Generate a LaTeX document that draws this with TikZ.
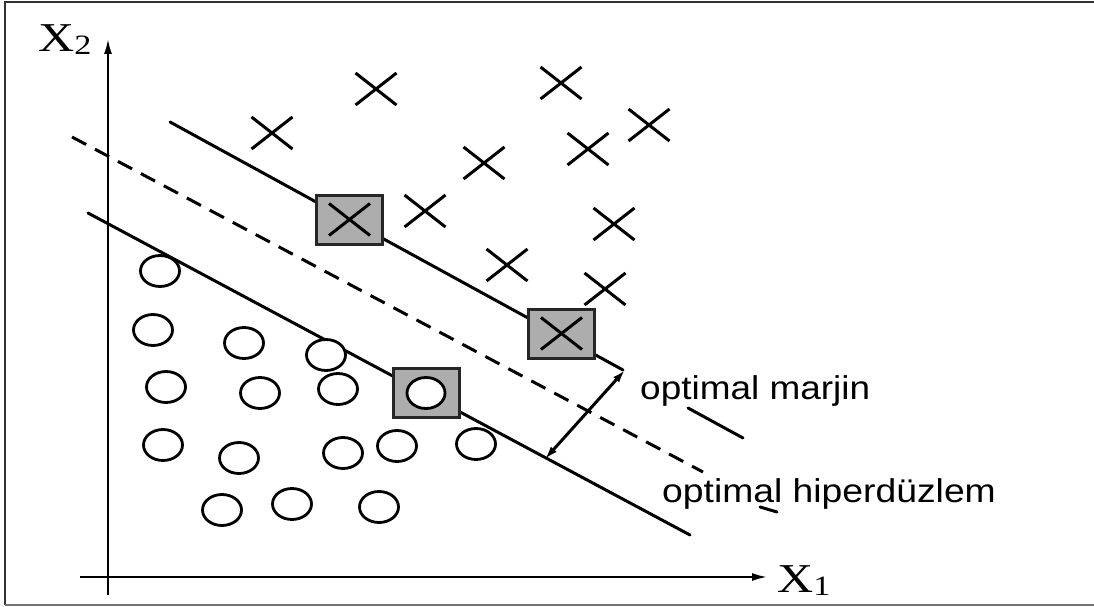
\documentclass[tikz,border=0pt]{standalone}
\usepackage{fontspec}
\newfontfamily\labelfont{Liberation Sans}
\newfontfamily\axisfont{Liberation Serif}
\usetikzlibrary{arrows.meta,shapes.geometric,shapes.misc}
\tikzset{
  mainline/.style={line width=3pt, line cap=round},
  dashline/.style={line width=3pt, dash pattern=on 16pt off 10pt},
  axisline/.style={line width=2.6pt, -{Latex[length=16pt,width=8pt]}},
  margarrow/.style={line width=3pt, {Latex[length=13pt,width=8pt]}-{Latex[length=13pt,width=8pt]}},
  crossmark/.style={cross out, draw, line width=3pt, minimum width=38pt, minimum height=29pt, inner sep=0pt},
  circmark/.style={ellipse, draw, line width=2.8pt, minimum width=39pt, minimum height=31pt, inner sep=0pt, fill=white},
  svbox/.style={rectangle, draw=black!85, line width=3pt, fill=black!32, minimum width=66pt, minimum height=49pt, inner sep=0pt},
  axislabel/.style={anchor=base west, inner sep=0pt, font=\axisfont\fontsize{41}{42}\selectfont},
  textlabel/.style={anchor=base west, inner sep=0pt, font=\labelfont\fontsize{33}{36}\selectfont},
  frameline/.style={line width=2pt}
}
\begin{document}
\begin{tikzpicture}[x=1pt,y=-1pt]
\useasboundingbox (0,0) rectangle (1094,607);
% frame
\coordinate (fbl) at (5,605);
\coordinate (ftl) at (5,2);
\coordinate (ftr) at (1094,2);
\coordinate (fbr) at (1094,605);
\draw[frameline, black!80] (fbl) -- (ftl) -- (ftr);
\draw[frameline, black!55] (fbl) -- (fbr);
% axes
\coordinate (yb) at (108,595);
\coordinate (yt) at (108,38);
\coordinate (xl) at (80,577);
\coordinate (xr) at (768,577);
\draw[axisline] (yb) -- (yt);
\draw[axisline] (xl) -- (xr);
\node[axislabel] (x2lab) at (38,52) {\scalebox{1.22}[1]{X\raisebox{-3pt}{\fontsize{28}{29}\selectfont 2}}};
\node[axislabel] (x1lab) at (777,592) {\scalebox{1.22}[1]{X\raisebox{-3pt}{\fontsize{28}{29}\selectfont 1}}};
% separating lines
\coordinate (u1) at (170,122);
\coordinate (u2) at (623,370);
\coordinate (d1) at (72,137);
\coordinate (d2) at (703,472);
\coordinate (l1) at (88,213);
\coordinate (l2) at (690,535);
\draw[mainline] (u1) -- (u2);
\draw[dashline] (d1) -- (d2);
\draw[mainline] (l1) -- (l2);
% leader marks
\coordinate (m1) at (688,408);
\coordinate (m2) at (743,438);
\coordinate (h1) at (760,507);
\coordinate (h2) at (777,512);
\draw[mainline] (m1) -- (m2);
\draw[mainline] (h1) -- (h2);
% margin arrow
\coordinate (a1) at (625,370);
\coordinate (a2) at (545,459);
\draw[margarrow] (a1) -- (a2);
% crosses
\node[crossmark] (c1) at (272,133) {};
\node[crossmark] (c2) at (376,89) {};
\node[crossmark] (c3) at (561,83) {};
\node[crossmark] (c4) at (649,125) {};
\node[crossmark] (c5) at (588,149) {};
\node[crossmark] (c6) at (484,163) {};
\node[crossmark] (c7) at (425,211) {};
\node[crossmark] (c8) at (614,224) {};
\node[crossmark] (c9) at (507,265) {};
\node[crossmark] (c10) at (605,289) {};
% circles
\node[circmark] (o1) at (160,271) {};
\node[circmark] (o2) at (153,330) {};
\node[circmark] (o3) at (244,343) {};
\node[circmark] (o4) at (326,355) {};
\node[circmark] (o5) at (166,387) {};
\node[circmark] (o6) at (260,393) {};
\node[circmark] (o7) at (338,389) {};
\node[circmark] (o8) at (163,445) {};
\node[circmark] (o9) at (239,458) {};
\node[circmark] (o10) at (343,453) {};
\node[circmark] (o11) at (397,446) {};
\node[circmark] (o12) at (476,444) {};
\node[circmark] (o13) at (222,510) {};
\node[circmark] (o14) at (292,504) {};
\node[circmark] (o15) at (379,507) {};
% support vectors
\node[svbox] (sv1) at (349.5,219.5) {};
\node[crossmark] (sx1) at (sv1) {};
\node[svbox] (sv2) at (561.5,333.5) {};
\node[crossmark] (sx2) at (sv2) {};
\node[svbox] (sv3) at (426,393) {};
\node[circmark, minimum width=38pt, minimum height=31pt] (so3) at (sv3) {};
% labels
\node[textlabel] (lmargin) at (640,399) {\scalebox{1.12}[1]{optimal marjin}};
\node[textlabel] (lhyper) at (662,502) {\scalebox{1.13}[1]{optimal hiperdüzlem}};
\end{tikzpicture}
\end{document}
